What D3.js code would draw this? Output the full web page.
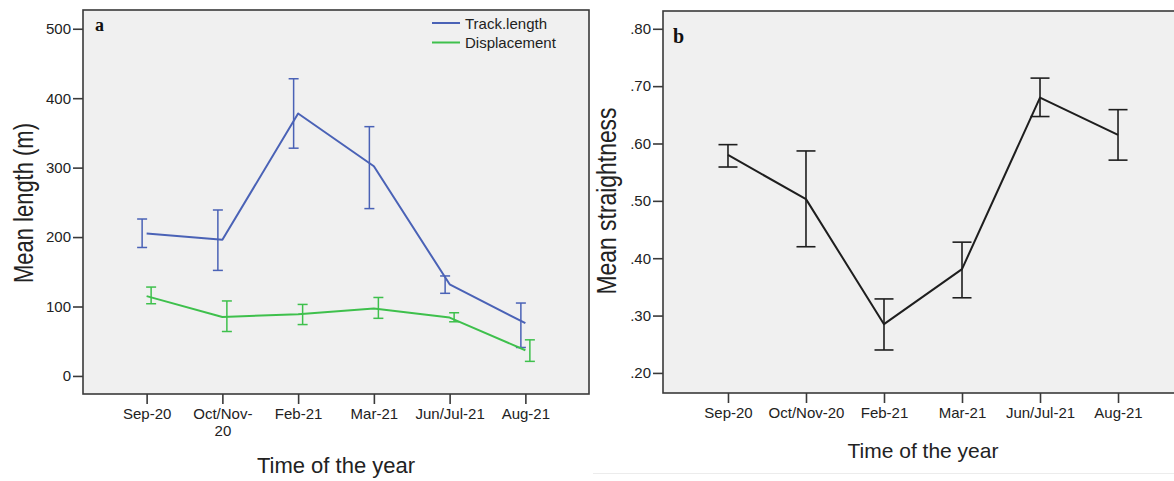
<!DOCTYPE html>
<html><head><meta charset="utf-8">
<script src="https://cdn.jsdelivr.net/npm/d3@7"></script>
<style>body{margin:0;background:#fff;}svg{display:block;font-family:Arial,"Liberation Sans",sans-serif;}</style>
</head><body>
<svg id="c" width="1174" height="481"></svg>
<script>
// ---- data ----
const categories = ["Sep-20","Oct/Nov-20","Feb-21","Mar-21","Jun/Jul-21","Aug-21"];
const leftTickLabels = [["Sep-20"],["Oct/Nov-","20"],["Feb-21"],["Mar-21"],["Jun/Jul-21"],["Aug-21"]];
const rightTickLabels = ["Sep-20","Oct/Nov-20","Feb-21","Mar-21","Jun/Jul-21","Aug-21"];
const trackMean = [205, 196, 378, 302, 132, 76];
const trackLow  = [185, 152, 328, 241, 119, 41];
const trackHigh = [226, 239, 428, 359, 144, 105];
const dispMean  = [115, 85, 89, 97, 84, 37];
const dispLow   = [104, 64, 74, 83, 78, 21];
const dispHigh  = [128, 108, 103, 113, 91, 52];
const straightMean = [0.580, 0.503, 0.285, 0.381, 0.680, 0.615];
const straightLow  = [0.559, 0.420, 0.240, 0.331, 0.647, 0.571];
const straightHigh = [0.598, 0.587, 0.329, 0.428, 0.714, 0.659];
const leftYTicks = [0, 100, 200, 300, 400, 500];
const rightYTicks = [0.2, 0.3, 0.4, 0.5, 0.6, 0.7, 0.8];
const seriesNames = ["Track.length", "Displacement"];

const svg = d3.select("#c");
const BLUE = "#4a62b6", GREEN = "#3ec04c", FRAME = "#3a3a3a", TXT = "#222";

// faint outer frame of right figure
svg.append("line").attr("x1",593).attr("x2",1174).attr("y1",473.5).attr("y2",473.5)
  .attr("stroke","#ececec").attr("stroke-width",1);

function panel(opts){
  const g = svg.append("g");
  const x = d3.scalePoint().domain(categories).range([opts.x0, opts.x1]).padding(opts.pad);
  const y = d3.scaleLinear().domain(opts.ydom).range([opts.y1, opts.y0]);
  g.append("rect").attr("x",opts.x0).attr("y",opts.y0).attr("width",opts.x1-opts.x0).attr("height",opts.y1-opts.y0)
    .attr("fill","#f0f0f0").attr("stroke",FRAME).attr("stroke-width",1.6);
  // y axis
  const ya = g.append("g").attr("transform",`translate(${opts.x0},0)`)
    .call(d3.axisLeft(y).tickValues(opts.yticks).tickFormat(opts.yfmt).tickSize(10).tickPadding(2));
  ya.select(".domain").remove();
  ya.selectAll(".tick line").attr("stroke",FRAME).attr("stroke-width",1.6);
  ya.selectAll(".tick text").attr("font-size",15).attr("fill",TXT).attr("font-family","Arial, 'Liberation Sans', sans-serif");
  // x axis
  const xa = g.append("g").attr("transform",`translate(0,${opts.y1})`)
    .call(d3.axisBottom(x).tickSize(10).tickPadding(4));
  xa.select(".domain").remove();
  xa.selectAll(".tick line").attr("stroke",FRAME).attr("stroke-width",1.6);
  xa.selectAll(".tick text").attr("font-size",15).attr("fill",TXT).attr("font-family","Arial, 'Liberation Sans', sans-serif")
    .each(function(d,i){
      const t = d3.select(this); t.text(null);
      const lines = opts.tickLabels[i];
      (Array.isArray(lines)?lines:[lines]).forEach((s,k)=>{
        t.append("tspan").attr("x",0).attr("dy",k===0?"0.71em":"1.13em").text(s);
      });
    });
  return {g,x,y};
}

function errorSeries(p, mean, low, high, color, off, cap, lw, bw){
  const g = p.g.append("g");
  const line = d3.line().x((d,i)=>p.x(categories[i])).y(d=>p.y(d));
  categories.forEach((c,i)=>{
    const cx = p.x(c)+off;
    g.append("line").attr("x1",cx).attr("x2",cx).attr("y1",p.y(low[i])).attr("y2",p.y(high[i]))
      .attr("stroke",color).attr("stroke-width",bw);
    [low[i],high[i]].forEach(v=>{
      g.append("line").attr("x1",cx-cap).attr("x2",cx+cap).attr("y1",p.y(v)).attr("y2",p.y(v))
        .attr("stroke",color).attr("stroke-width",bw);
    });
  });
  g.append("path").attr("d",line(mean)).attr("fill","none").attr("stroke",color).attr("stroke-width",lw)
    .attr("stroke-linejoin","round");
}

// ---- left panel ----
const L = panel({x0:83,x1:589,y0:10,y1:394,pad:0.84,ydom:[-26,527],yticks:leftYTicks,
  yfmt:d3.format("d"),tickLabels:leftTickLabels});
errorSeries(L, trackMean, trackLow, trackHigh, BLUE, -4.5, 5, 2, 1.5);
errorSeries(L, dispMean, dispLow, dispHigh, GREEN, 4.5, 5, 2, 1.5);
L.g.append("text").attr("x",95).attr("y",31).attr("font-family","'Liberation Serif','Times New Roman',serif")
  .attr("font-weight","bold").attr("font-size",18).attr("fill","#111").text("a");
// legend
const legColors=[BLUE,GREEN];
seriesNames.forEach((n,i)=>{
  const yy = 23 + i*19.5;
  L.g.append("line").attr("x1",432).attr("x2",460).attr("y1",yy).attr("y2",yy).attr("stroke",legColors[i]).attr("stroke-width",2);
  L.g.append("text").attr("x",465).attr("y",yy+5.5).attr("font-size",15).attr("fill",TXT).text(n);
});
// titles
svg.append("text").attr("transform","translate(33,203) rotate(-90)").attr("text-anchor","middle")
  .attr("font-size",27).attr("fill",TXT).attr("textLength",160).attr("lengthAdjust","spacingAndGlyphs").text("Mean length (m)");
svg.append("text").attr("x",336).attr("y",473).attr("text-anchor","middle").attr("font-size",22).attr("fill",TXT).text("Time of the year");

// ---- right panel ----
const R = panel({x0:663,x1:1183,y0:11,y1:393,pad:0.833,ydom:[0.165,0.831],yticks:rightYTicks,
  yfmt:v=>d3.format(".2f")(v).replace(/^0/,""),tickLabels:rightTickLabels});
errorSeries(R, straightMean, straightLow, straightHigh, "#1e1e1e", 0, 9.5, 2, 1.6);
R.g.append("text").attr("x",673).attr("y",43).attr("font-family","'Liberation Serif','Times New Roman',serif")
  .attr("font-weight","bold").attr("font-size",20).attr("fill","#111").text("b");
svg.append("text").attr("transform","translate(616,201) rotate(-90)").attr("text-anchor","middle")
  .attr("font-size",27).attr("fill",TXT).attr("textLength",187).attr("lengthAdjust","spacingAndGlyphs").text("Mean straightness");
svg.append("text").attr("x",923).attr("y",458).attr("text-anchor","middle").attr("font-size",21).attr("fill",TXT).text("Time of the year");
</script>
</body></html>
